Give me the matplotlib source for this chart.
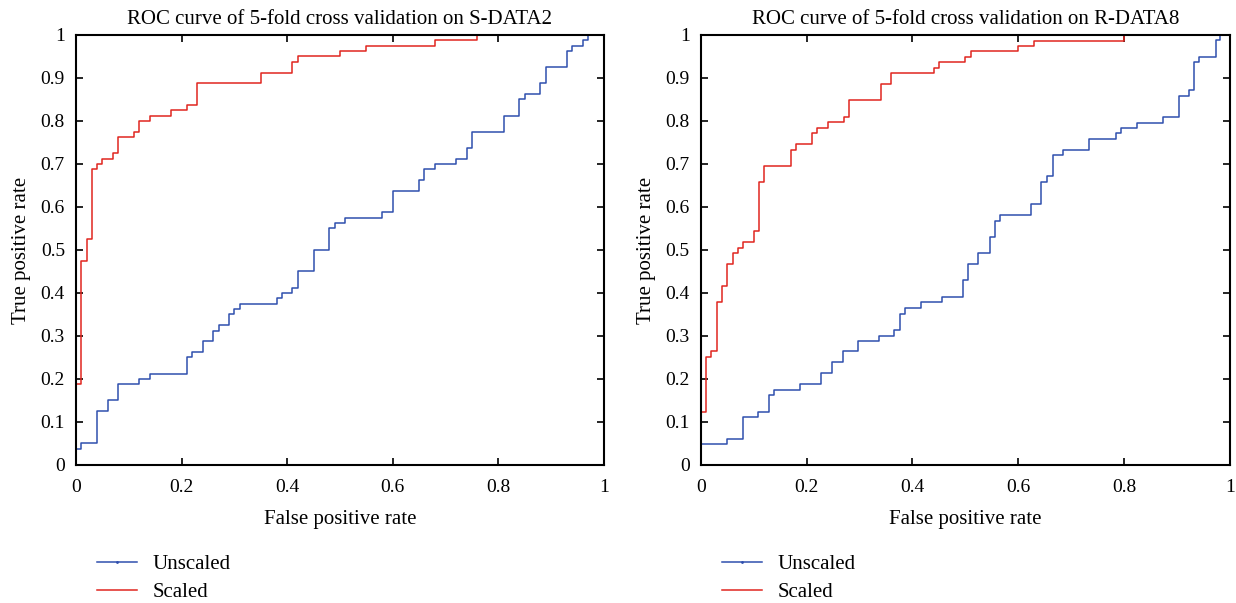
import matplotlib.pyplot as plt
from matplotlib.lines import Line2D

plt.rcParams['font.family'] = ['Liberation Serif', 'DejaVu Serif']

# S-DATA2 (left)
s_red_x = [0, 0, 0.01, 0.02, 0.03, 0.04, 0.05, 0.07, 0.08, 0.11, 0.12, 0.14, 0.18, 0.21, 0.23,
           0.35, 0.41, 0.42, 0.50, 0.55, 0.68, 0.76, 1.0]
s_red_y = [0, 0.1875, 0.475, 0.525, 0.6875, 0.7, 0.7125, 0.725, 0.7625, 0.775, 0.8, 0.8125, 0.825,
           0.8375, 0.8875, 0.9125, 0.9375, 0.95, 0.9625, 0.975, 0.9875, 1.0, 1.0]
s_blue_x = [0, 0, 0.01, 0.04, 0.06, 0.08, 0.12, 0.14, 0.21, 0.22, 0.24, 0.26, 0.27, 0.29, 0.30,
            0.31, 0.38, 0.39, 0.41, 0.42, 0.45, 0.48, 0.49, 0.51, 0.58, 0.60, 0.65, 0.66, 0.68,
            0.72, 0.74, 0.75, 0.81, 0.84, 0.85, 0.88, 0.89, 0.93, 0.94, 0.96, 0.97, 1.0]
s_blue_y = [0, 0.0375, 0.05, 0.125, 0.15, 0.1875, 0.2, 0.2125, 0.25, 0.2625, 0.2875, 0.3125, 0.325,
            0.35, 0.3625, 0.375, 0.3875, 0.4, 0.4125, 0.45, 0.5, 0.55, 0.5625, 0.575, 0.5875,
            0.6375, 0.6625, 0.6875, 0.7, 0.7125, 0.7375, 0.775, 0.8125, 0.85, 0.8625, 0.8875,
            0.925, 0.9625, 0.975, 0.9875, 1.0, 1.0]

# R-DATA8 (right)
r_red_x = [0, 0, 0.01, 0.02, 0.03, 0.04, 0.05, 0.06, 0.07, 0.08, 0.10, 0.11, 0.12, 0.17, 0.18,
           0.21, 0.22, 0.24, 0.27, 0.28, 0.34, 0.36, 0.44, 0.45, 0.50, 0.51, 0.60, 0.63, 0.80, 1.0]
r_red_y = [0, 0.124, 0.251, 0.264, 0.378, 0.416, 0.467, 0.492, 0.505, 0.518, 0.543, 0.657, 0.695,
           0.733, 0.746, 0.772, 0.784, 0.797, 0.810, 0.848, 0.886, 0.912, 0.924, 0.936, 0.949,
           0.962, 0.974, 0.987, 1.0, 1.0]
r_blue_x = [0, 0, 0.049, 0.079, 0.109, 0.129, 0.138, 0.188, 0.227, 0.248, 0.268, 0.297, 0.337,
            0.366, 0.376, 0.386, 0.416, 0.456, 0.496, 0.506, 0.524, 0.546, 0.556, 0.565, 0.625,
            0.644, 0.654, 0.665, 0.684, 0.734, 0.784, 0.794, 0.824, 0.873, 0.903, 0.922, 0.932,
            0.942, 0.973, 0.982, 1.0]
r_blue_y = [0, 0.048, 0.061, 0.112, 0.124, 0.162, 0.175, 0.188, 0.213, 0.239, 0.264, 0.289, 0.301,
            0.314, 0.352, 0.365, 0.378, 0.391, 0.430, 0.467, 0.493, 0.531, 0.568, 0.581, 0.607,
            0.657, 0.671, 0.720, 0.733, 0.758, 0.771, 0.783, 0.796, 0.809, 0.859, 0.873, 0.936,
            0.949, 0.988, 1.0, 1.0]

titles = ['ROC curve of 5-fold cross validation on S-DATA2',
          'ROC curve of 5-fold cross validation on R-DATA8']
labels = ['Unscaled', 'Scaled']
blue = '#2f4fae'
red = '#e0261f'

fig = plt.figure(figsize=(12.36, 6.03), dpi=100)
ax1 = fig.add_axes([0.0615, 0.229, 0.427, 0.713])
ax2 = fig.add_axes([0.567, 0.229, 0.428, 0.713])

data = [(s_blue_x, s_blue_y, s_red_x, s_red_y), (r_blue_x, r_blue_y, r_red_x, r_red_y)]

for ax, (bx, by, rx, ry), title in zip([ax1, ax2], data, titles):
    ax.step(bx, by, where='post', color=blue, lw=1.1)
    ax.step(rx, ry, where='post', color=red, lw=1.1)
    ax.set_xlim(0, 1)
    ax.set_ylim(0, 1)
    ax.set_xticks([0, 0.2, 0.4, 0.6, 0.8, 1])
    ax.set_xticklabels(['0', '0.2', '0.4', '0.6', '0.8', '1'])
    ax.set_yticks([i / 10 for i in range(11)])
    ax.set_yticklabels(['0'] + ['%.1f' % (i / 10) for i in range(1, 10)] + ['1'])
    ax.tick_params(direction='in', top=True, right=True, length=5, width=1.2, labelsize=14)
    ax.tick_params(axis='x', pad=10)
    ax.tick_params(axis='y', pad=8)
    for sp in ax.spines.values():
        sp.set_linewidth(1.5)
    ax.set_title(title, fontsize=15, pad=8)
    ax.set_xlabel('False positive rate', fontsize=15, labelpad=10)
    ax.set_ylabel('True positive rate', fontsize=15, labelpad=7)
    handles = [Line2D([0], [0], color=blue, lw=1.1, marker='.', markersize=2),
               Line2D([0], [0], color=red, lw=1.1)]
    ax.legend(handles, labels, loc='upper left', bbox_to_anchor=(0.04, -0.209),
              frameon=False, fontsize=15, handlelength=1.9, handletextpad=0.75,
              labelspacing=0.4, borderaxespad=0, borderpad=0)

fig.savefig('out.png', dpi=100)
